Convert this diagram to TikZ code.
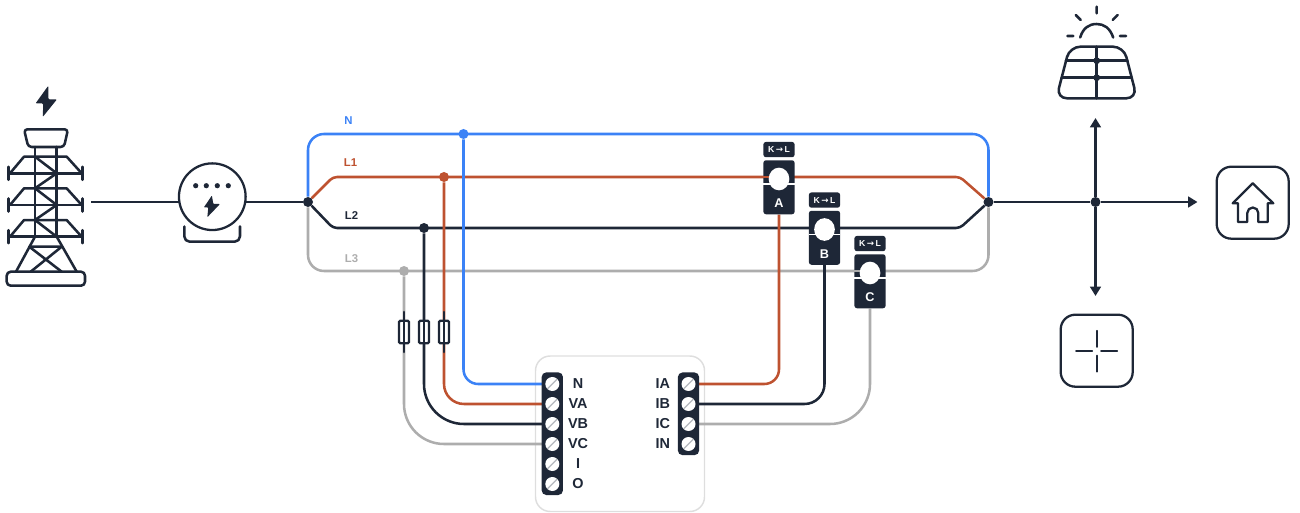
\documentclass[tikz,border=0pt]{standalone}
\usepackage{fontspec}
\setmainfont{Liberation Sans}
\usetikzlibrary{arrows.meta,shapes.geometric}
\definecolor{ink}{HTML}{1E2737}
\definecolor{bluew}{HTML}{3B82F6}
\definecolor{redw}{HTML}{BE5230}
\definecolor{grayw}{HTML}{ADADAD}
\definecolor{boxline}{HTML}{DEDEDE}
\definecolor{slash}{HTML}{B4B8BE}
\pgfdeclarelayer{boxes}
\pgfdeclarelayer{wires}
\pgfsetlayers{boxes,wires,main}
\tikzset{
  x=0.75pt,y=-0.75pt,
  wire/.style={line width=1.9pt,line join=round},
  icon/.style={draw=ink,line width=1.9pt,line join=round,line cap=round},
  thin icon/.style={draw=ink,line width=1.3pt,line join=round,line cap=round},
  junction/.style={circle,fill=#1,inner sep=0pt,minimum size=7.5pt},
  strip/.style={fill=ink,draw=none,rounded corners=3.5pt,inner sep=0pt,minimum width=16pt},
  screw/.style={circle,fill=white,inner sep=0pt,minimum size=10.5pt,path picture={\draw[slash,line width=1pt] (path picture bounding box.south west) -- (path picture bounding box.north east);}},
  termlabel/.style={font=\bfseries\fontsize{10.8}{12}\selectfont,text=ink,inner sep=0pt},
  wirelabel/.style={font=\bfseries\fontsize{8.5}{10}\selectfont,inner sep=0pt},
  clampbody/.style={fill=ink,rounded corners=2pt,draw=none,minimum width=23.5pt,minimum height=40.5pt,inner sep=0pt},
  clamptag/.style={fill=ink,rounded corners=2pt,draw=none,minimum width=23.5pt,minimum height=11.5pt,inner sep=0pt,text=white,font=\bfseries\fontsize{6.5}{7}\selectfont},
  clampletter/.style={text=white,font=\bfseries\fontsize{9.5}{11}\selectfont,inner sep=0pt},
  clamphole/.style={ellipse,fill=white,inner sep=0pt},
  iconbox/.style={draw=ink,line width=1.7pt,rounded corners=11pt,minimum size=54pt,inner sep=0pt},
  fuse/.style={draw=ink,line width=1.7pt,fill=white,rounded corners=1pt,minimum width=7.5pt,minimum height=17pt,inner sep=0pt},
  tip/.style={-{Triangle[length=7pt,width=8pt]}}
}
\begin{document}
\begin{tikzpicture}
\useasboundingbox (0,0) rectangle (1300,513);

% ---------- tower
\fill[ink,rounded corners=0.8pt] (48.3,85.7) -- (35.5,103.5) -- (43.3,103.5) -- (42.7,117) -- (57,99.3) -- (48.3,99.3) -- cycle;
\draw[icon,rounded corners=2.5pt] (24,129.3) -- (68,129.3) -- (64,147) -- (28.3,147) -- cycle;
\draw[icon] (35,147) -- (35,236.7) (56.7,147) -- (56.7,236.7);
\foreach \yy in {173.3,205,236.7}{
  \draw[icon] (8.3,\yy) -- (82.7,\yy) (8.3,\yy-6.5) -- (8.3,\yy+6.5) (82.7,\yy-6.5) -- (82.7,\yy+6.5);
  \draw[icon] (10,\yy) -- (24,\yy-16.6) -- (66.7,\yy-16.6) -- (81.7,\yy);
}
\draw[icon] (35,156.7) -- (56.7,173.3) -- (35,188.3) -- (56.7,205) -- (35,220) -- (56.7,236.7);
\draw[icon] (35,236.7) -- (16,271.7) (56.7,236.7) -- (76.7,271.7);
\draw[icon] (29.3,246.7) -- (61.7,246.7) (29.3,246.7) -- (61.7,271.7) (61.7,246.7) -- (30.7,271.7);
\draw[icon,rounded corners=3pt] (6.7,271.7) rectangle (85,285.7);

% ---------- meter
\node[circle,draw=ink,line width=1.7pt,inner sep=0pt,minimum size=50pt] (meter) at (212.3,196.7) {};
\foreach \xx in {195.7,206.3,217.3,228.3}{\fill[ink] (\xx,185.7) circle (2.6);}
\fill[ink,rounded corners=0.6pt] (211.9,195.5) -- (203.8,207.5) -- (208.3,207.5) -- (207.3,217.3) -- (220,204) -- (213.3,204) -- cycle;
\draw[icon,rounded corners=4pt] (184.3,226.5) -- (184.3,241.7) -- (240,241.7) -- (240,226.5);

% ---------- junctions
\node[junction=ink] (jL) at (308,202) {};
\node[junction=ink] (jR) at (988.5,202) {};
\node[junction=bluew] (jN) at (463.5,134) {};
\node[junction=redw] (j1) at (444,177) {};
\node[junction=ink] (j2) at (424,228) {};
\node[junction=grayw] (j3) at (404,271) {};
\node[junction=ink] (jH) at (1095.5,202) {};
\coordinate (towerend) at (91,202);
\coordinate (meterin) at (180,202);
\coordinate (meterout) at (245,202);
\coordinate (r1a) at (333,177); \coordinate (r1b) at (960,177);
\coordinate (r2a) at (333,228); \coordinate (r2b) at (960,228);

% ---------- fuses
\node[fuse] (f3) at (404,332) {};
\node[fuse] (f2) at (424,332) {};
\node[fuse] (f1) at (444,332) {};
\foreach \f in {f1,f2,f3}{\draw[icon] ([yshift=15pt]\f.center) -- ([yshift=-15pt]\f.center);}

% ---------- terminal blocks
\begin{pgfonlayer}{boxes}
\draw[boxline,line width=1.1pt,rounded corners=11pt] (535.5,356) rectangle (704.5,511.5);
\end{pgfonlayer}
\node[strip,minimum height=92pt] (leftblock) at (552.3,433.7) {};
\node[strip,minimum height=62pt] (rightblock) at (688.5,413.8) {};
\foreach \n/\yy in {N/384,VA/404,VB/424,VC/444,I/464,O/484}{
  \node[screw] (t\n) at (552.3,\yy) {};
  \node[termlabel] at (578,\yy) {\n};
}
\foreach \n/\yy in {IA/384,IB/404,IC/424,IN/444}{
  \node[screw] (t\n) at (688.5,\yy) {};
  \node[termlabel] at (662.7,\yy) {\n};
}

% ---------- clamps
\foreach \c/\xx/\yy/\wc/\wy in {A/779/160/redw/177,B/824.5/210.5/ink/228,C/870/254/grayw/271}{
  \node[clampbody,anchor=north] (c\c) at (\xx,\yy) {};
  \node[clamptag,anchor=south] (k\c) at (\xx,\yy-2.5) {K\,{\fontspec{DejaVu Sans}→}\,L};
  \draw[line width=1.9pt,draw=\wc] (\xx-15.7,\wy) -- (\xx,\wy);
  \node[clamphole,minimum width=15.5pt,minimum height=17pt] (h\c) at (\xx,\yy+19) {};
  \fill[white] (\xx-15.7,\yy+23.2) rectangle (\xx+15.7,\yy+24.6);
  \node[clampletter] at (\xx,\yy+43.5) {\c};
}

% ---------- right-hand icons
\node[iconbox] (home) at (1252.7,202.7) {};
\node[iconbox] (storage) at (1096.7,350.7) {};
\draw[thin icon] (1076,351) -- (1092.3,351) (1101,351) -- (1117.3,351) (1096.7,330.7) -- (1096.7,347) (1096.7,355.5) -- (1096.7,371.7);
\draw[icon,line width=1.7pt] (1252.7,183.3) -- (1273.3,203.3) -- (1267.7,203.3) -- (1267.7,222) -- (1258.3,222) -- (1258.3,213) arc[start angle=0,end angle=-180,radius=5.5] -- (1247.3,222) -- (1238,222) -- (1238,203.3) -- (1232.7,203.3) -- cycle;
\coordinate (solarbase) at (1095.5,118);
\coordinate (storagetop) at (1095.5,296);
\coordinate (hometip) at (1197.5,202);
\draw[icon] (1080.2,37.5) .. controls (1083,28) and (1089,24) .. (1096.7,24) .. controls (1104,24) and (1110,28) .. (1113.2,37.5);
\draw[icon] (1096.7,6.7) -- (1096.7,13.3) (1075.7,15) -- (1080.7,20) (1117.7,15) -- (1112.7,20) (1067.3,36) -- (1073.3,36) (1120,36) -- (1126,36);
\draw[icon,rounded corners=8pt] (1069.7,46.7) -- (1123.7,46.7) -- (1137,98.3) -- (1056.3,98.3) -- cycle;
\draw[icon] (1066,60.7) -- (1127.4,60.7) (1061.7,77.7) -- (1131.7,77.7) (1096.7,46.7) -- (1096.7,98.3);
\fill[ink] (1096.7,60.7) circle (3.4) (1096.7,77.7) circle (3.4);

% ---------- labels on the bus
\node[wirelabel,text=bluew] at (348.5,121) {N};
\node[wirelabel,text=redw] at (350.5,163) {L1};
\node[wirelabel,text=ink] at (351.5,216) {L2};
\node[wirelabel,text=grayw] at (351.5,259) {L3};

% ---------- wires
\begin{pgfonlayer}{wires}
\draw[wire,ink] (towerend) -- (meterin);
\draw[wire,ink] (meterout) -- (jL);
\draw[wire,grayw,rounded corners=12pt] (jL) -- (jL |- j3) -- (jR |- j3) -- (jR);
\draw[wire,bluew,rounded corners=12pt] (jL) -- (jL |- jN) -- (jR |- jN) -- (jR);
\draw[wire,redw,rounded corners=3pt] (jL) -- (r1a) -- (r1b) -- (jR);
\draw[wire,ink,rounded corners=3pt] (jL) -- (r2a) -- (r2b) -- (jR);
\draw[wire,grayw,rounded corners=30pt] (j3) -- (j3 |- tVC) -- (tVC);
\draw[wire,ink,rounded corners=30pt] (j2) -- (j2 |- tVB) -- (tVB);
\draw[wire,redw,rounded corners=15pt] (j1) -- (j1 |- tVA) -- (tVA);
\draw[wire,bluew,rounded corners=11pt] (jN) -- (jN |- tN) -- (tN);
\draw[wire,redw,rounded corners=11pt] (cA.south) -- (cA.south |- tIA) -- (tIA);
\draw[wire,ink,rounded corners=15pt] (cB.south) -- (cB.south |- tIB) -- (tIB);
\draw[wire,grayw,rounded corners=30pt] (cC.south) -- (cC.south |- tIC) -- (tIC);
\draw[wire,ink] (jR) -- (jH);
\draw[wire,ink,tip] (jH) -- (hometip);
\draw[wire,ink,tip] (jH) -- (solarbase);
\draw[wire,ink,tip] (jH) -- (storagetop);
\end{pgfonlayer}
\end{tikzpicture}
\end{document}
